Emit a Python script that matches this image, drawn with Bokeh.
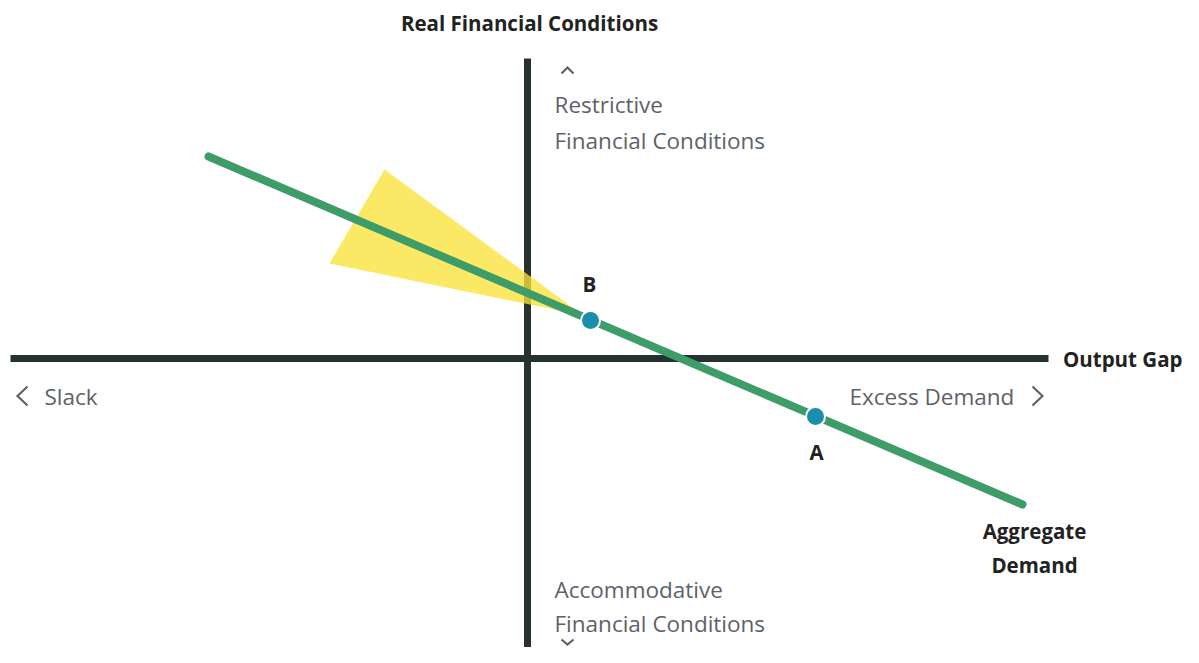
from bokeh.plotting import figure
from bokeh.models import Range1d
from bokeh.core.properties import value
from bokeh.embed import file_html
from bokeh.resources import INLINE

# ---- data (arbitrary units, origin = axes crossing) ----
ad_x = [-3.19, 4.95]
ad_y = [2.02, -1.46]
pt_names = ["B", "A"]
pt_x = [0.63, 2.88]
pt_y = [0.38, -0.58]
wedge_x = [0.56, -1.43, -1.98]
wedge_y = [0.43, 1.89, 0.95]
haxis_x = [-5.17, 5.21]
vaxis_y = [3.00, -3.10]

FONT = value("Open Sans")
GREY = "#5e6268"
DARK = "#222222"

p = figure(width=1183, height=647, output_backend="svg", toolbar_location=None,
           x_range=Range1d(-5.27, 6.56), y_range=Range1d(-2.89, 3.58),
           x_axis_location=None, y_axis_location=None, min_border=0,
           outline_line_color=None, background_fill_color="white")
p.grid.visible = False

# axes
p.line(haxis_x, [0, 0], line_color="#263230", line_width=7)
p.line([0, 0], vaxis_y, line_color="#263230", line_width=7)

# wedge
p.patch(wedge_x, wedge_y, fill_color="#fae23a", fill_alpha=0.78, line_color=None)

# aggregate demand line
p.line(ad_x, ad_y, line_color="#3d9c67", line_width=8, line_cap="round")

# points
p.scatter(pt_x, pt_y, size=19, fill_color="#1a8eaa", line_color="white", line_width=2)

BOLD = dict(text_font=FONT, text_font_style="bold", text_font_size="20.5px",
            text_color=DARK, text_baseline="middle")
# point labels
p.text([pt_x[0] - 0.01], [pt_y[0] + 0.37], text=[pt_names[0]], text_align="center", **BOLD)
p.text([pt_x[1] + 0.01], [pt_y[1] - 0.35], text=[pt_names[1]], text_align="center", **BOLD)

# titles
p.text([0.02], [3.36], text=["Real Financial Conditions"], text_align="center", **BOLD)
p.text([6.55], [0.0], text=["Output Gap"], text_align="right", **BOLD)
p.text([5.07, 5.07], [-1.72, -2.06], text=["Aggregate", "Demand"], text_align="center", **BOLD)

# grey annotations
GREYTXT = dict(text_font=FONT, text_font_size="22.5px", text_color=GREY,
               text_align="left", text_baseline="middle")
p.text([-4.83, 3.22], [-0.38, -0.38], text=["Slack", "Excess Demand"], **GREYTXT)
p.text([0.27, 0.27, 0.27, 0.27], [2.54, 2.18, -2.31, -2.65],
       text=["Restrictive", "Financial Conditions", "Accommodative", "Financial Conditions"],
       **GREYTXT)

# chevrons
chev_xs = [[-5.00, -5.10, -5.00], [5.05, 5.15, 5.05], [0.34, 0.40, 0.46], [0.34, 0.40, 0.46]]
chev_ys = [[-0.28, -0.375, -0.47], [-0.28, -0.375, -0.47], [2.85, 2.91, 2.85], [-2.81, -2.86, -2.81]]
p.multi_line(chev_xs, chev_ys, line_color=GREY, line_width=2.2, line_join="miter")

open("out.html", "w").write(file_html(p, INLINE))
